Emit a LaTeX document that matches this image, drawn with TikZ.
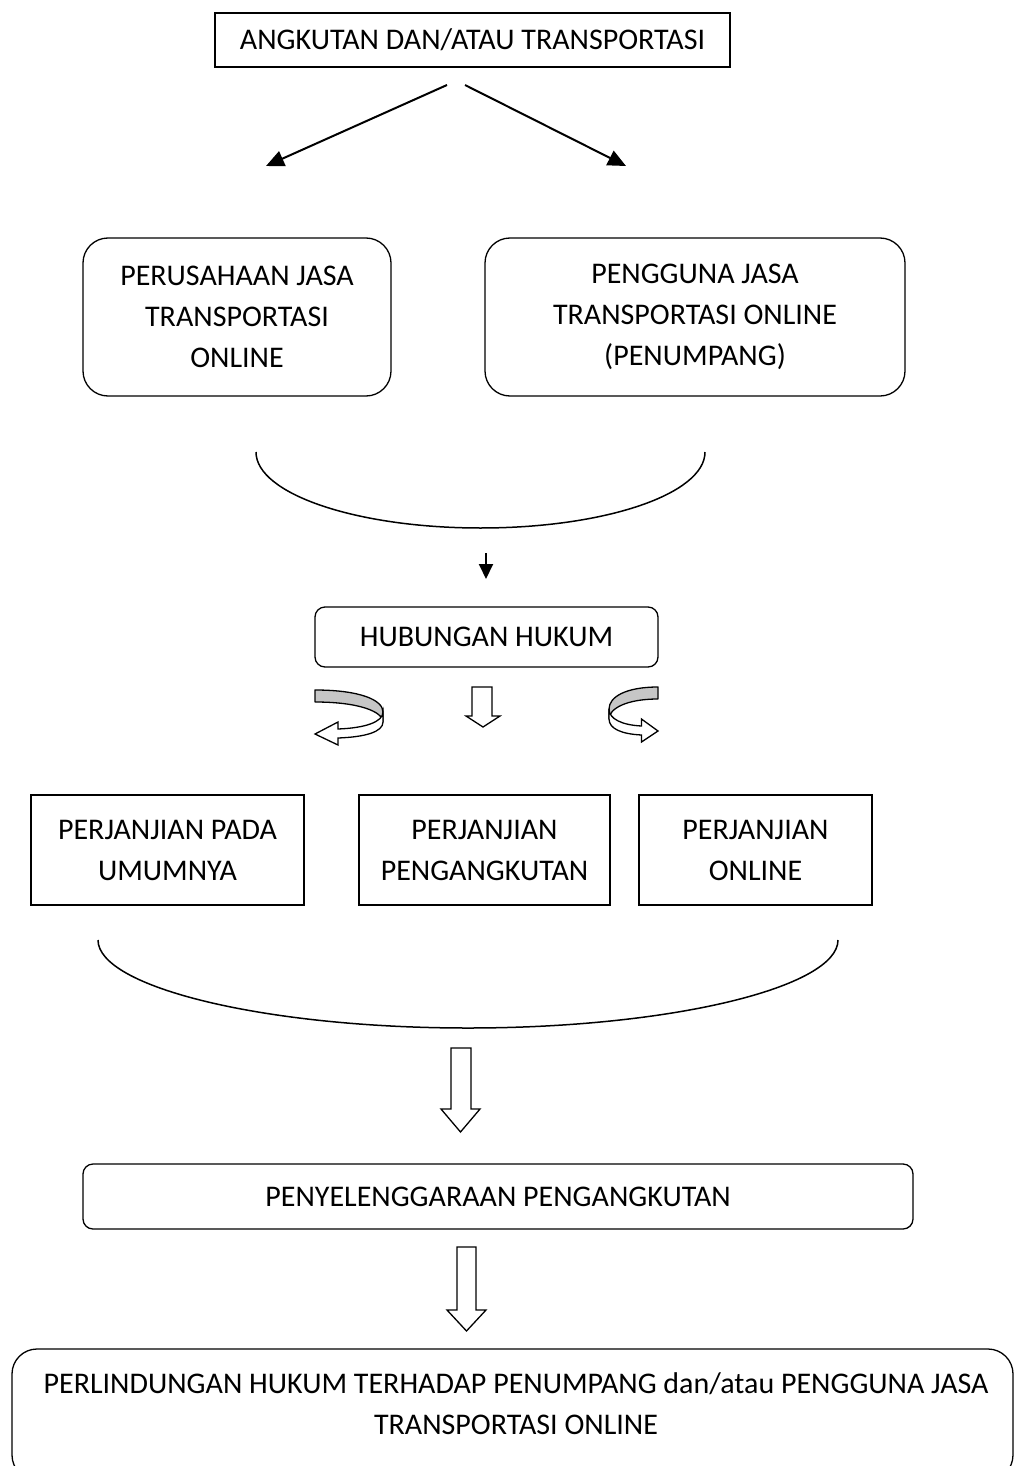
\documentclass[tikz,border=0pt]{standalone}
\usepackage{fontspec}
\setmainfont{Carlito}
\usetikzlibrary{arrows.meta}
\tikzset{
  box/.style={draw, line width=1.3pt, inner sep=0pt, align=center, font=\fontsize{30}{41}\selectfont},
  rbox/.style={box, rounded corners=25pt},
  sbox/.style={box, rounded corners=10pt},
  txt/.style={inner sep=0pt, align=center, font=\fontsize{30}{41}\selectfont},
  conn/.style={line width=2pt, -{Triangle[length=18pt,width=16pt]}},
  smallconn/.style={line width=2pt, -{Triangle[length=15pt,width=14pt]}},
  blockarrow/.style={draw, line width=1.3pt, fill=white, line join=miter},
  ribbonback/.style={draw, line width=1.3pt, fill=gray!45, line join=round},
  ribbonfront/.style={draw, line width=1.3pt, fill=white, line join=miter},
  curve/.style={line width=1.5pt},
}
\begin{document}
\begin{tikzpicture}[x=1pt,y=-1pt]
\path[use as bounding box] (0,0) rectangle (1015,1466);
\clip (0,0) rectangle (1015,1466);

% boxes
\node[box, minimum width=515pt, minimum height=54pt] (top) at (472.5,40) {ANGKUTAN DAN/ATAU TRANSPORTASI};
\node[rbox, minimum width=308pt, minimum height=158pt] (perusahaan) at (237,317) {PERUSAHAAN JASA\\TRANSPORTASI\\ONLINE};
\node[rbox, minimum width=420pt, minimum height=158pt] (pengguna) at (695,317) {PENGGUNA JASA\\TRANSPORTASI ONLINE\\(PENUMPANG)};
\node[sbox, minimum width=343pt, minimum height=60pt] (hubungan) at (486.5,637) {HUBUNGAN HUKUM};
\node[box, minimum width=273pt, minimum height=110pt] (pumum) at (167.5,850) {PERJANJIAN PADA\\UMUMNYA};
\node[box, minimum width=251pt, minimum height=110pt] (pangkut) at (484.5,850) {PERJANJIAN\\PENGANGKUTAN};
\node[box, minimum width=233pt, minimum height=110pt] (ponline) at (755.5,850) {PERJANJIAN\\ONLINE};
\node[sbox, minimum width=830pt, minimum height=65pt] (penyel) at (498,1196.5) {PENYELENGGARAAN PENGANGKUTAN};
\node[rbox, minimum width=1001pt, minimum height=131pt] (perlind) at (512.5,1414.5) {};
\node[txt] (perlindtext) at (516,1404) {PERLINDUNGAN HUKUM TERHADAP PENUMPANG dan/atau PENGGUNA JASA\\TRANSPORTASI ONLINE};

% top arrows
\coordinate (a1s) at (447,85);
\coordinate (a1e) at (266,166);
\coordinate (a2s) at (465,85);
\coordinate (a2e) at (626,166);
\draw[conn] (a1s) -- (a1e);
\draw[conn] (a2s) -- (a2e);

% first brace curve
\coordinate (c1a) at (256,452);
\coordinate (c1m) at (480.5,528);
\coordinate (c1b) at (705,452);
\draw[curve] (c1a) .. controls (256,494) and (357,528) .. (c1m) .. controls (605,528) and (705,494) .. (c1b);

% small arrow
\coordinate (s1) at (486,553);
\coordinate (s2) at (486,579);
\draw[smallconn] (s1) -- (s2);

% ribbon arrows
\begin{scope}[shift={(315,690)}]
\draw[ribbonback] (0,0) .. controls (45,0) and (68,10) .. (68,22) -- (68,32) .. controls (68,22) and (45,12) .. (0,12) -- cycle;
\draw[ribbonfront] (68,22) .. controls (68,32) and (50,38) .. (23,39) -- (23,32) -- (0,44) -- (23,55) -- (23,48) .. controls (50,47) and (68,42) .. (68,32) -- cycle;
\end{scope}
\begin{scope}[shift={(658,687)}, xscale=-0.72]
\draw[ribbonback] (0,0) .. controls (45,0) and (68,10) .. (68,22) -- (68,32) .. controls (68,22) and (45,12) .. (0,12) -- cycle;
\draw[ribbonfront] (68,22) .. controls (68,32) and (50,38) .. (23,39) -- (23,32) -- (0,44) -- (23,55) -- (23,48) .. controls (50,47) and (68,42) .. (68,32) -- cycle;
\end{scope}

% block arrows
\draw[blockarrow] (472,687) -- (492,687) -- (492,716) -- (500,716) -- (483,727) -- (466,716) -- (472,716) -- cycle;

% second brace curve
\coordinate (c2a) at (98,940);
\coordinate (c2m) at (468,1028);
\coordinate (c2b) at (838,940);
\draw[curve] (c2a) .. controls (98,987) and (264,1028) .. (c2m) .. controls (672,1028) and (838,987) .. (c2b);

\draw[blockarrow] (451,1048) -- (471,1048) -- (471,1109) -- (480,1109) -- (460.5,1132) -- (441,1109) -- (451,1109) -- cycle;
\draw[blockarrow] (457,1247) -- (476,1247) -- (476,1310) -- (486,1310) -- (466.5,1331) -- (447,1310) -- (457,1310) -- cycle;

\end{tikzpicture}
\end{document}
